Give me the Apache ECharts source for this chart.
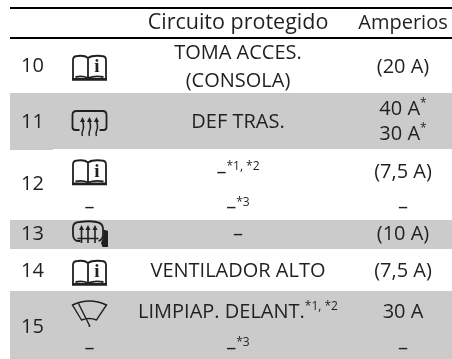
<!DOCTYPE html>
<html><head><meta charset="utf-8">
<style>html,body{margin:0;padding:0;background:#fff}#c{width:452px;height:359px}</style>
<script src="https://cdn.jsdelivr.net/npm/echarts@6/dist/echarts.min.js"></script>
</head><body><div id="c"></div>
<script>
const headers = ['Circuito protegido', 'Amperios'];
const rowNumbers = ['10', '11', '12', '13', '14', '15'];
const rowIcons = ['book', 'defrost', 'book', 'seat', 'book', 'wiper'];
const circuitLines = [['TOMA ACCES.', '(CONSOLA)'], ['DEF TRAS.'], ['–{s|*1, *2}', '–{s|*3}'], ['–'], ['VENTILADOR ALTO'], ['LIMPIAP. DELANT.{s|*1, *2}', '–{s|*3}']];
const ampLines = [['(20 A)'], ['40 A{s|*}', '30 A{s|*}'], ['(7,5 A)', '–'], ['(10 A)'], ['(7,5 A)'], ['30 A', '–']];
const subDashes = ['', '', '–', '', '', '–'];

// layout (pixels of the 452x359 page)
const bands = [[10, 93, 452, 149], [10, 149, 53, 150], [10, 220, 452, 249], [10, 291, 452, 359]];
const rules = [8, 38];
const numberY = [66, 122, 184, 234, 271, 327];
const iconY = [68, 123, 172.5, 234, 273, 314];
const lineY = [[53, 81], [122], [172, 207.5], [234], [271], [312, 348]];
const ampY = [[67], [109, 134], [172, 207.5], [234], [271], [312, 348]];
const X = { left: 10, right: 452, num: 32.5, icon: 89.5, circuit: 238, amp: 403 };
const INK = '#231f20', GREY = '#cbcbcb';
const FONT = '"Open Sans"', SIZE = 20;
const headSizes = [21.5, 20];

const BOOK = 'M-16.5 11 L-16.5 -8 Q-16.5 -12 -12 -12 Q-5 -13 -1.5 -10 Q3 -13 12 -12 Q16.5 -12 16.5 -8 L16.5 11 M-1.5 -10 L-1.5 9 M-14 9 Q-7 7.5 -1.5 10 Q5 7.5 14 9';
const DEFROST_FRAME = 'M-10 7 L-14 7 Q-17 7 -17 4 L-17 -8 Q-17 -12 -13 -12 L13 -12 Q17 -12 17 -8 L17 4 Q17 7 14 7 L10 7';
const DEFROST_ARROWS = 'M-7 -2 Q-5 4 -7 8 Q-8 11 -7 13 M0 -2 Q2 4 0 8 Q-1 11 0 13 M7 -2 Q9 4 7 8 Q6 11 7 13';
const SEAT_FRAME = 'M-9 7 L-12 7 Q-16.5 6 -16.5 0 L-16.5 -6 Q-16.5 -12 -10 -12 Q0 -13.5 7 -12 Q13.5 -11 13.5 -5 L13.5 1 Q13 6 9 7';
const SEAT_ARROWS = 'M-8 -5 L-8 9 M-1.5 -5 L-1.5 9 M5.5 -5 L5.5 9 M-12 4.5 L9 4.5';
const WIPER = 'M-17 -9 Q0 -17 17 -9 L7 6 Q0 3 -8 6 Z M-11 -10.5 L0 11.5';

const items = [];
bands.forEach(b => items.push({ t: 'band', b }));
rules.forEach(y => items.push({ t: 'rule', y }));
headers.forEach((text, i) => items.push({ t: 'text', x: i ? X.amp : X.circuit, y: 23, text, size: headSizes[i] }));
rowNumbers.forEach((text, i) => {
  items.push({ t: 'text', x: X.num, y: numberY[i], text });
  items.push({ t: 'icon', kind: rowIcons[i], x: X.icon, y: iconY[i] });
  circuitLines[i].forEach((text, j) => items.push({ t: 'text', x: X.circuit, y: lineY[i][j], text }));
  ampLines[i].forEach((text, j) => items.push({ t: 'text', x: X.amp, y: ampY[i][j], text }));
  if (subDashes[i]) items.push({ t: 'text', x: X.icon, y: lineY[i][1], text: subDashes[i] });
});

function icon(kind) {
  const st = (w, fill) => ({ stroke: INK, lineWidth: w, fill: fill || 'none' });
  const p = (pathData, w, fill) => ({ type: 'path', shape: { pathData }, style: st(w, fill) });
  if (kind === 'book') return [
    p(BOOK, 1.8),
    { type: 'rect', shape: { x: -17.5, y: 10, width: 35, height: 2.8 }, style: { fill: INK } },
    { type: 'text', x: 7.5, y: -0.5, style: { text: 'i', fill: INK, font: 'bold 19px "Liberation Serif"', align: 'center', verticalAlign: 'middle' } }
  ];
  if (kind === 'defrost') return [p(DEFROST_FRAME, 1.8), p(DEFROST_ARROWS, 1.5),
    { type: 'path', shape: { pathData: 'M-7 -6 L-9.5 -1 L-4.5 -1 Z M0 -6 L-2.5 -1 L2.5 -1 Z M7 -6 L4.5 -1 L9.5 -1 Z' }, style: { fill: INK } }];
  if (kind === 'seat') return [p(SEAT_FRAME, 1.8), p(SEAT_ARROWS, 1.6),
    { type: 'path', shape: { pathData: 'M-8 -9 L-10.5 -4 L-5.5 -4 Z M-1.5 -9 L-4 -4 L1 -4 Z M5.5 -9 L3 -4 L8 -4 Z M14.5 -4 L16 -4 L18.5 -3 L18.5 13 L13 13 L11.5 9 Q14 4 14.5 -4 Z' }, style: { fill: INK } }];
  return [p(WIPER, 1.4), { type: 'circle', shape: { cx: 0, cy: 12, r: 1 }, style: { fill: INK } }];
}

function renderItem(params, api) {
  const d = items[params.dataIndex];
  if (d.t === 'band') {
    const a = api.coord([d.b[0], d.b[1]]), b = api.coord([d.b[2], d.b[3]]);
    return { type: 'rect', shape: { x: a[0], y: a[1], width: b[0] - a[0], height: b[1] - a[1] }, style: { fill: GREY } };
  }
  if (d.t === 'rule') {
    const a = api.coord([X.left, d.y]), b = api.coord([X.right, d.y]);
    return { type: 'line', shape: { x1: a[0], y1: a[1], x2: b[0], y2: b[1] }, style: { stroke: '#000', lineWidth: 2 } };
  }
  const c = api.coord([d.x, d.y]);
  if (d.t === 'icon') return { type: 'group', x: c[0], y: c[1], children: icon(d.kind) };
  return { type: 'text', x: c[0], y: c[1], style: {
    text: d.text, fill: INK, font: (d.size || SIZE) + 'px ' + FONT, align: 'center', verticalAlign: 'middle',
    rich: { s: { fontSize: 12, fontFamily: 'Open Sans', fill: INK, verticalAlign: 'top', lineHeight: 22 } }
  } };
}

const chart = echarts.init(document.getElementById('c'), null, { renderer: 'canvas' });
chart.setOption({
  animation: false,
  backgroundColor: '#fff',
  grid: { left: 0, right: 0, top: 0, bottom: 0 },
  xAxis: { type: 'value', min: 0, max: 452, show: false },
  yAxis: { type: 'value', min: 0, max: 359, inverse: true, show: false },
  series: [{ type: 'custom', coordinateSystem: 'cartesian2d', clip: false, silent: true, data: items.map((_, i) => [i]), encode: { x: 0 }, renderItem }]
});
</script></body></html>
